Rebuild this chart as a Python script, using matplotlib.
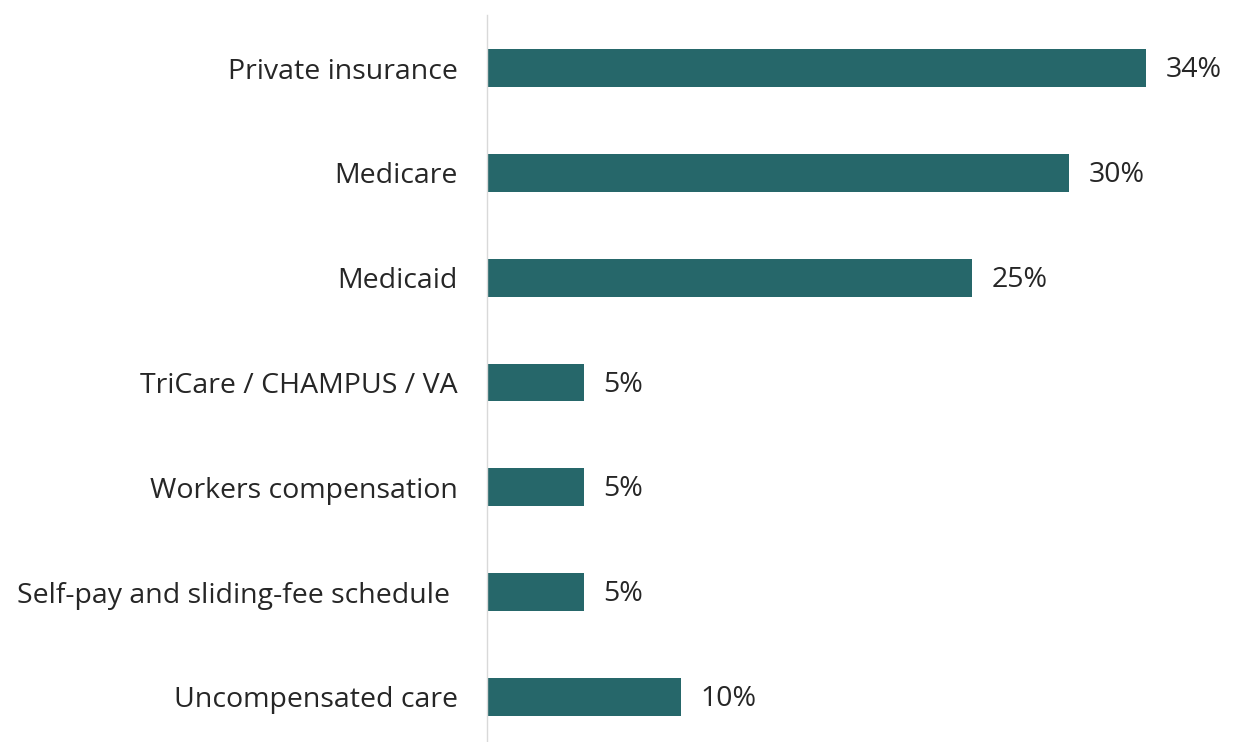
import matplotlib
matplotlib.use('Agg')
import matplotlib.pyplot as plt

# ─── Data ──────────────────────────────────────────────────────────────────────
categories = ['Private insurance', 'Medicare', 'Medicaid', 'TriCare / CHAMPUS / VA',
              'Workers compensation', 'Self-pay and sliding-fee schedule ',
              'Uncompensated care']
shares = [34, 30, 25, 5, 5, 5, 10]

BAR_COLOR = '#26676A'
TEXT_COLOR = '#262626'

plt.rcParams['font.family'] = ['Open Sans', 'DejaVu Sans']

fig = plt.figure(figsize=(12.33, 7.42), dpi=100)
ax = fig.add_axes([487 / 1233, 0, (1224 - 487) / 1233, (742 - 15) / 742])

y = list(range(len(categories)))
bars = ax.barh(y, shares, height=0.36, color=BAR_COLOR, edgecolor='none')

for yi, v in zip(y, shares):
    ax.text(v + 1.0, yi + 0.02, f'{v}%', va='center', ha='left',
            color=TEXT_COLOR, fontsize=20.5)

ax.set_xlim(0, 38)
ax.set_ylim(6.43, -0.506)
ax.set_yticks(y)
ax.set_yticklabels(categories, fontsize=20.5, color=TEXT_COLOR)
ax.tick_params(axis='y', length=0, pad=21)
ax.set_xticks([])

for side in ['top', 'right', 'bottom']:
    ax.spines[side].set_visible(False)
ax.spines['left'].set_color('#D9D9D9')
ax.spines['left'].set_linewidth(1)

fig.savefig('out.png', dpi=100, facecolor='white')
